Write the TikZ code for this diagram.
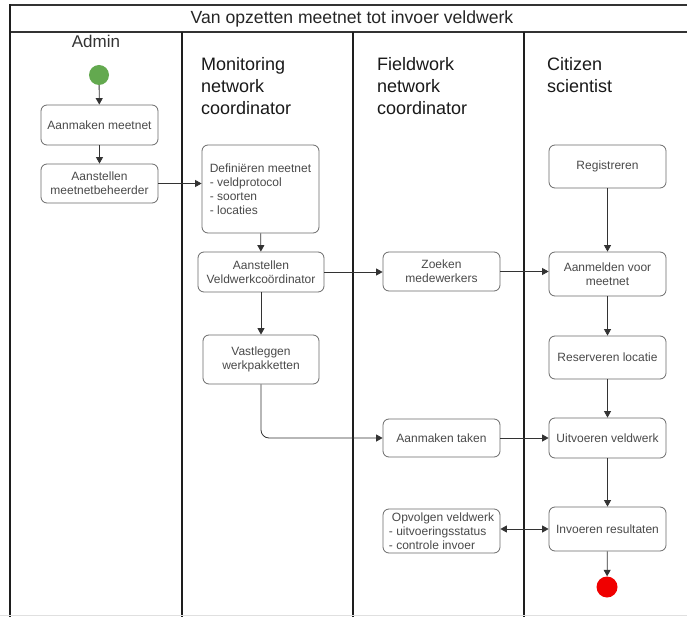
\documentclass[tikz,border=0pt]{standalone}
\usepackage{fontspec}
\setmainfont{Liberation Sans}
\usetikzlibrary{arrows.meta}
\definecolor{boxline}{HTML}{6A6A6A}
\definecolor{boxtext}{HTML}{4A4A4A}
\definecolor{conn}{HTML}{333333}
\definecolor{lane}{HTML}{1E1E1E}
\definecolor{startgreen}{HTML}{63A94F}
\definecolor{endred}{HTML}{F00000}
\tikzset{
  x=1pt,y=-1pt,
  actbox/.style={draw=boxline,line width=0.8pt,rounded corners=6pt,text=boxtext,
    font=\fontsize{12}{14}\selectfont,align=center,minimum width=117pt,inner sep=2pt},
  conn/.style={draw=conn,line width=0.8pt,-{Triangle[length=6.5pt,width=7pt]}},
  dconn/.style={draw=conn,line width=0.8pt,{Triangle[length=6.5pt,width=7pt]}-{Triangle[length=6.5pt,width=7pt]}},
  laneline/.style={draw=lane,line width=1.6pt},
  header/.style={font=\fontsize{18}{22}\selectfont,align=left,anchor=north west,inner sep=0pt,text=black!90},
}
\begin{document}
\begin{tikzpicture}
\useasboundingbox (0,0) rectangle (687,617);
\fill[white] (0,0) rectangle (687,617);
% frame
\draw[black!80,line width=1.4pt] (10,5) -- (687,5);
\draw[black!80,line width=1.4pt] (10,32) -- (687,32);
\draw[laneline] (10,4.3) -- (10,617);
\draw[laneline] (182,32) -- (182,617);
\draw[laneline] (353,32) -- (353,617);
\draw[laneline] (524,32) -- (524,617);
\draw[black!12,line width=0.8pt] (0,615) -- (687,615);
% title and headers
\node[font=\fontsize{17.6}{20}\selectfont,text=black!85,inner sep=0pt] (title) at (352,18.5) {Van opzetten meetnet tot invoer veldwerk};
\node[font=\fontsize{17}{20}\selectfont,text=black!80,inner sep=0pt] (hadmin) at (96,41) {Admin};
\node[header] (hmon) at (201,57) {Monitoring\\network\\coordinator};
\node[header] (hfield) at (377,57) {Fieldwork\\network\\coordinator};
\node[header] (hcit) at (547,57) {Citizen\\scientist};
% nodes
\node[circle,fill=startgreen,minimum size=20pt,inner sep=0pt] (start) at (99,75) {};
\node[actbox,minimum height=40pt] (amk) at (99.5,125) {Aanmaken meetnet};
\node[actbox,minimum height=39pt] (ams) at (99.5,183.5) {Aanstellen\\meetnetbeheerder};
\node[actbox,minimum height=88pt,align=left] (def) at (260.5,189) {Definiëren meetnet\\- veldprotocol\\- soorten\\- locaties};
\node[actbox,minimum width=126pt,minimum height=40pt] (asv) at (261,272) {Aanstellen\\Veldwerkcoördinator};
\node[actbox,minimum width=116pt,minimum height=49pt] (vas) at (261,359.5) {Vastleggen\\werkpakketten};
\node[actbox,minimum height=39pt] (zm) at (441.5,271.5) {Zoeken\\medewerkers};
\node[actbox,minimum height=38pt] (amt) at (441.5,438) {Aanmaken taken};
\node[actbox,minimum height=44pt,align=left] (opv) at (441.5,531) {\hspace{3pt}Opvolgen veldwerk\\- uitvoeringsstatus\\- controle invoer};
\node[actbox,minimum height=43pt] (reg) at (607.5,166.5) {Registreren};
\node[actbox,minimum height=44pt] (aan) at (607.5,274) {Aanmelden voor\\meetnet};
\node[actbox,minimum height=43pt] (res) at (607.5,357.5) {Reserveren locatie};
\node[actbox,minimum height=40pt] (uit) at (607.5,438) {Uitvoeren veldwerk};
\node[actbox,minimum height=44pt] (inv) at (607.5,529) {Invoeren resultaten};
\node[circle,fill=endred,minimum size=21pt,inner sep=0pt] (end) at (607,587) {};
% connectors
\draw[conn] (start) -- (amk);
\draw[conn] (amk) -- (ams);
\draw[conn] (ams.east) -- (ams.east -| def.west);
\draw[conn] (def) -- (asv);
\draw[conn] (asv) -- (vas);
\draw[conn] (asv.east) -- (asv.east -| zm.west);
\draw[conn] (zm.east) -- (zm.east -| aan.west);
\draw[conn] (reg) -- (aan);
\draw[conn] (aan) -- (res);
\draw[conn] (res) -- (uit);
\draw[conn,rounded corners=8pt] (vas.south) -- (vas.south |- amt.west) -- (amt.west);
\draw[conn] (amt) -- (uit);
\draw[conn] (uit) -- (inv);
\draw[dconn] (opv.east |- inv.west) -- (inv.west);
\draw[conn] (inv) -- (end);
\end{tikzpicture}
\end{document}
